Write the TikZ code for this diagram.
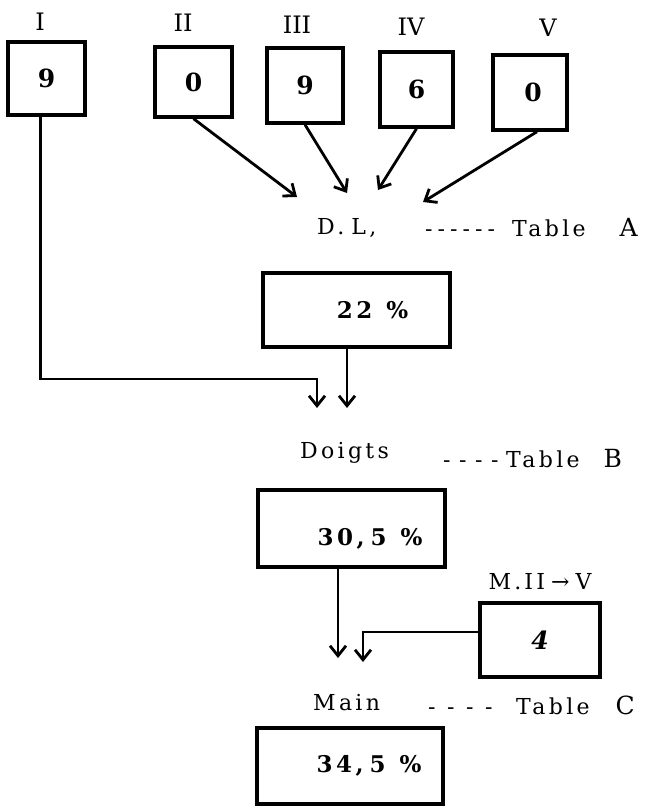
\documentclass[tikz,border=0pt]{standalone}
\usepackage{fontspec}
\setmainfont{DejaVu Serif}
\newfontfamily\spfont[LetterSpace=15]{DejaVu Serif}
\usetikzlibrary{arrows.meta,calc}
\newcommand{\dsh}[1]{\makebox[#1][l]{-}}
\newcommand{\tabletter}[1]{{\fontsize{25}{28}\selectfont #1}}
\begin{document}
\begin{tikzpicture}[x=1pt,y=-1pt,
  box/.style={draw, line width=3.4pt, inner sep=0pt},
  arr/.style={line width=2.8pt, -{Straight Barb[length=10pt,width=16pt]}},
  lbl/.style={font=\fontsize{24}{28}\selectfont, inner sep=0pt},
  sp/.style={font=\spfont\fontsize{22}{26}\selectfont, inner sep=0pt},
  dig/.style={font=\bfseries\fontsize{25}{30}\selectfont},
  pct/.style={font=\spfont\bfseries\fontsize{23}{28}\selectfont},
  ]
\useasboundingbox (0,0) rectangle (653,808);

% top labels
\node[lbl] (lI)   at (40,22)  {I};
\node[lbl] (lII)  at (183,23) {II};
\node[lbl] (lIII) at (297,25) {III};
\node[lbl] (lIV)  at (411,27) {IV};
\node[lbl] (lV)   at (548,28) {V};

% top boxes
\node[box, dig, minimum width=77pt, minimum height=73pt] (bI)   at (46.5,78.5) {9\hspace{28pt}};
\node[box, dig, minimum width=77pt, minimum height=70pt] (bII)  at (193.5,82)  {0\hspace{26pt}};
\node[box, dig, minimum width=76pt, minimum height=75pt] (bIII) at (305,85.5)  {9\hspace{16pt}};
\node[box, dig, minimum width=73pt, minimum height=75pt] (bIV)  at (416.5,89.5){6\hspace{19pt}};
\node[box, dig, minimum width=74pt, minimum height=75pt] (bV)   at (530,92.5)  {\hspace*{6pt}0};

% arrow ends
\coordinate (aII)  at (297,197);
\coordinate (aIII) at (347,193);
\coordinate (aIV)  at (378,190);
\coordinate (aV)   at (423,202);
\draw[arr] (bII.south) -- (aII);
\draw[arr] (bIII.south) -- (aIII);
\draw[arr] (bIV.south) -- (aIV);
\draw[arr] ([xshift=7pt]bV.south) -- (aV);

% D.L. / Table A
\node[sp, anchor=west] (txDL) at (317,228) {D.\hspace{7pt}L,};
\node[sp, anchor=west] (tabA) at (425,228)
  {\dsh{12.5pt}\dsh{12.5pt}\dsh{12.5pt}\dsh{12.5pt}\dsh{12.5pt}\dsh{12.5pt}\hspace{12pt}Table\hspace{34pt}\tabletter{A}};
\node[box, pct, minimum width=187pt, minimum height=74pt] (bDL) at (356.5,310)
  {\hspace*{32pt}22\hspace{14pt}\%};

\coordinate (aI)  at (317,408);
\coordinate (aDL) at (347,408);
\draw[arr] ([xshift=-6pt]bI.south) |- ([yshift=29pt]aI) -- (aI);
\draw[arr] (bDL.south -| aDL) -- (aDL);

% Doigts / Table B
\node[sp, anchor=west] (txDG) at (300,453) {Doigts};
\node[sp, anchor=west] (tabB) at (443,459)
  {\dsh{16pt}\dsh{16pt}\dsh{16pt}\dsh{15pt}Table\hspace{24pt}\tabletter{B}};
\node[box, pct, minimum width=187pt, minimum height=77pt, text height=34pt, text depth=0pt] (bDG) at (351.5,528.5)
  {\hspace*{37pt}30,\hspace{6pt}5\hspace{14pt}\%};

% M.II -> V
\node[sp] (txM) at (540,582) {M.\hspace{3pt}II\hspace{6pt}→\hspace{6pt}V};
\node[box, dig, minimum width=120pt, minimum height=74pt] (b4) at (540,640) {\itshape 4\hspace{6pt}};

\coordinate (aDG) at (338,658);
\coordinate (a4)  at (363,662);
\draw[arr] (bDG.south -| aDG) -- (aDG);
\draw[arr] ([yshift=8pt]b4.west) -| (a4);

% Main / Table C
\node[sp, anchor=west] (txMain) at (313,703) {Main};
\node[sp, anchor=west] (tabC) at (428,705)
  {\dsh{19pt}\dsh{19pt}\dsh{19pt}\dsh{19pt}\hspace{12pt}Table\hspace{26pt}\tabletter{C}};
\node[box, pct, minimum width=186pt, minimum height=76pt] (bM) at (350,766)
  {\hspace*{38pt}34,\hspace{6pt}5\hspace{14pt}\%};
\end{tikzpicture}
\end{document}
